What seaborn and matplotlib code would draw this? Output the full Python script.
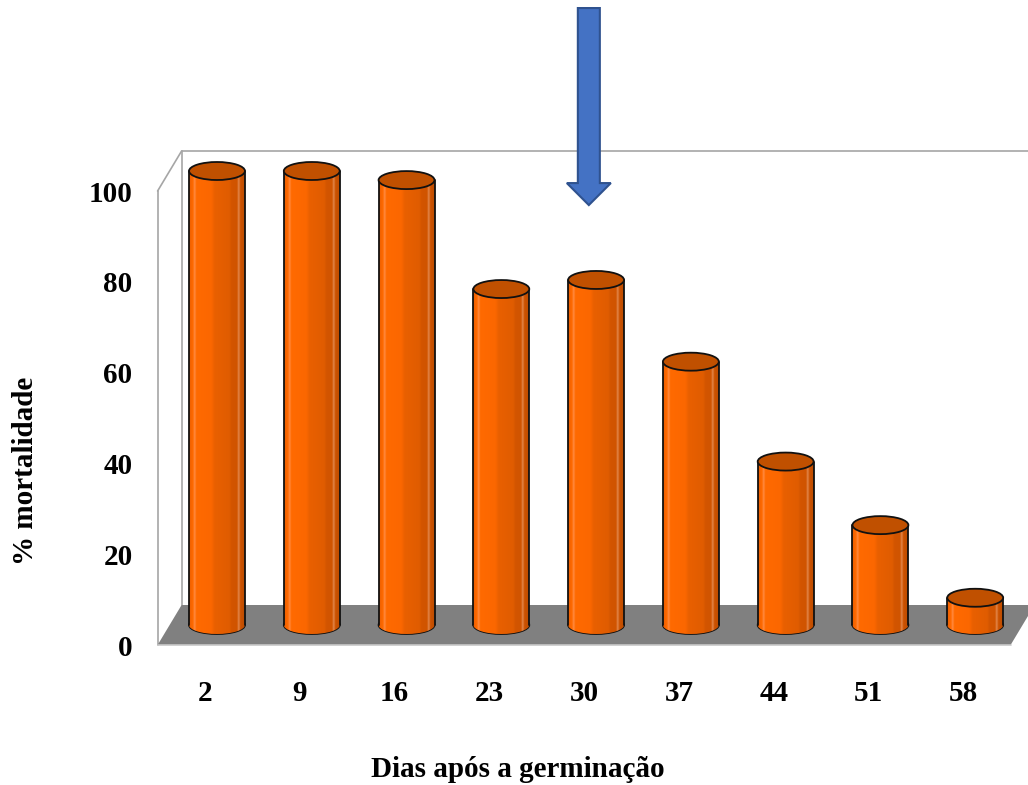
import numpy as np
import pandas as pd
import matplotlib
matplotlib.use("Agg")
import matplotlib.pyplot as plt
import seaborn as sns
from matplotlib.patches import Ellipse, Polygon, FancyArrow
from matplotlib.colors import LinearSegmentedColormap
from matplotlib.transforms import ScaledTranslation

# Mortality (%) by days after germination
days = ["2", "9", "16", "23", "30", "37", "44", "51", "58"]
mortality = [100, 100, 98, 74, 76, 58, 36, 22, 6]
y_ticks = [0, 20, 40, 60, 80, 100]

sns.set_theme(style="white")
plt.rcParams["font.family"] = ["Liberation Serif", "DejaVu Serif"]
plt.rcParams["font.weight"] = "bold"

W, H, DPI = 1028, 785, 100
fig = plt.figure(figsize=(W / DPI, H / DPI), dpi=DPI)

# front plane of the 3-D box, in pixels
left_px, right_px, bottom_px, top_px = 157.6, 1010.6, 645.0, 191.0
ax = fig.add_axes([left_px / W, (H - bottom_px) / H,
                   (right_px - left_px) / W, (bottom_px - top_px) / H])

df = pd.DataFrame({"dias": days, "mortalidade": mortality})
sns.barplot(data=df, x="dias", y="mortalidade", color="#F26200", width=0.59,
            edgecolor="none", linewidth=0, ax=ax, zorder=3)

n = len(days)
ax.set_xlim(-0.5, n - 0.5)
ax.set_ylim(0, 100)

px_x = (right_px - left_px) / n      # pixels per category unit
px_y = (bottom_px - top_px) / 100.0  # pixels per percentage unit

# depth of the box: back plane is 24 px right and 40 px up from the front
depth_px_x, depth_px_y = 24.0, 40.0
dx, dy = depth_px_x / px_x, depth_px_y / px_y

# bars sit halfway back
mid = ax.transData + ScaledTranslation(depth_px_x / 2 / DPI, depth_px_y / 2 / DPI,
                                       fig.dpi_scale_trans)

bars = list(ax.patches)

# floor
floor = Polygon([(-0.5, 0), (n - 0.5, 0), (n - 0.5 + dx, dy), (-0.5 + dx, dy)],
                closed=True, facecolor="#808080", edgecolor="none",
                zorder=1, clip_on=False)
ax.add_patch(floor)
ax.plot([-0.5, n - 0.5], [0, 0], color="#C8C8C8", lw=1.2, zorder=1.5, clip_on=False)

# walls
wall = dict(color="#A6A6A6", lw=1.2, zorder=0.5, clip_on=False)
ax.plot([-0.5, -0.5], [0, 100], **wall)
ax.plot([-0.5, -0.5 + dx], [100, 100 + dy], **wall)
ax.plot([-0.5 + dx, -0.5 + dx], [dy, 100 + dy], **wall)
ax.plot([-0.5 + dx, n + 1], [100 + dy, 100 + dy], **wall)

# cylinder shading
body_cmap = LinearSegmentedColormap.from_list("body", [
    (0.00, "#EC5F00"), (0.07, "#FF6A00"), (0.10, "#FF8C45"), (0.13, "#FF6A00"),
    (0.40, "#FB6700"), (0.46, "#E96000"), (0.72, "#E05C00"), (0.76, "#D35500"),
    (0.86, "#D05400"), (0.89, "#E3894F"), (0.92, "#CC5200"), (1.00, "#BD4D00")])
grad = np.linspace(0, 1, 256).reshape(1, -1)

cap_h = 18.0 / px_y   # ellipse height in data units
for bar in bars:
    x0, w, h = bar.get_x(), bar.get_width(), bar.get_height()
    cx = x0 + w / 2
    bar.set_transform(mid)
    bar.set_clip_on(False)

    base = Ellipse((cx, 0), w, cap_h, transform=mid, facecolor="#E86000",
                   edgecolor="#111111", lw=1.3, zorder=2.5, clip_on=False)
    ax.add_patch(base)
    for clip in (bar, base):
        im = ax.imshow(grad, cmap=body_cmap, aspect="auto",
                       extent=(x0, x0 + w, -cap_h, h), transform=mid,
                       zorder=clip.get_zorder() + 0.1, interpolation="bilinear")
        im.set_clip_path(clip)

    ax.plot([x0, x0], [0, h], color="#111111", lw=1.3, transform=mid,
            zorder=3.5, clip_on=False)
    ax.plot([x0 + w, x0 + w], [0, h], color="#111111", lw=1.3, transform=mid,
            zorder=3.5, clip_on=False)
    top = Ellipse((cx, h), w, cap_h, transform=mid, facecolor="#C05000",
                  edgecolor="#111111", lw=1.3, zorder=4, clip_on=False)
    ax.add_patch(top)

ax.set_xlim(-0.5, n - 0.5)
ax.set_ylim(0, 100)

# arrow marking day 30
arrow_x = days.index("30") + 0.05
arrow = FancyArrow(arrow_x, 140.3, 0, 96.9 - 140.3, width=22 / px_x,
                   head_width=44 / px_x, head_length=22 / px_y,
                   length_includes_head=True, facecolor="#4472C4",
                   edgecolor="#2F528F", lw=1.5, zorder=6, clip_on=False)
ax.add_patch(arrow)

# axes text
for s in ax.spines.values():
    s.set_visible(False)
ax.set_yticks(y_ticks)
ax.set_yticklabels([str(v) for v in y_ticks])
ax.tick_params(axis="y", length=0, pad=18, labelsize=21)
ax.tick_params(axis="x", length=0, pad=25, labelsize=21)
for lab in ax.get_xticklabels() + ax.get_yticklabels():
    lab.set_fontweight("bold")
    lab.set_color("black")

ax.set_xlabel("Dias após a germinação", fontsize=21, fontweight="bold", color="black")
ax.set_ylabel("% mortalidade", fontsize=21, fontweight="bold", color="black")
ax.xaxis.set_label_coords((518 - left_px) / (right_px - left_px),
                          (bottom_px - 756) / (bottom_px - top_px))
ax.yaxis.set_label_coords((39 - left_px) / (right_px - left_px),
                          (bottom_px - 471) / (bottom_px - top_px))
ax.set_facecolor("none")
ax.grid(False)

fig.savefig("out.png", dpi=DPI, facecolor="white")
